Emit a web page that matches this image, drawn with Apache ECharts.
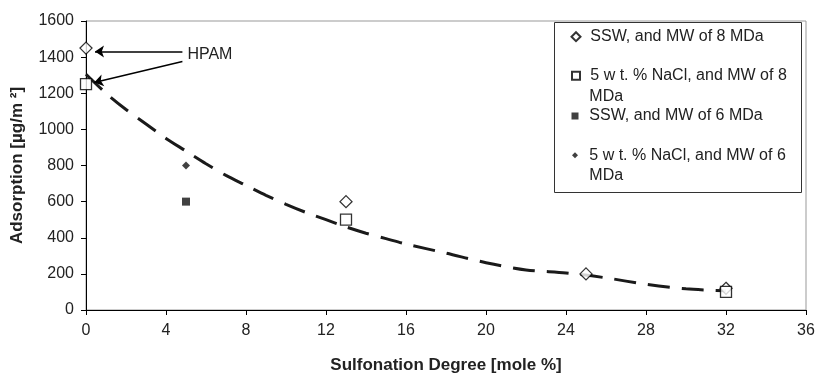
<!DOCTYPE html>
<html><head><meta charset="utf-8">
<script src="https://cdn.jsdelivr.net/npm/echarts@6/dist/echarts.min.js"></script>
<style>html,body{margin:0;padding:0;background:#fff}#c{width:816px;height:375px}</style>
</head><body><div id="c"></div>
<script>
// ---- data ----
const seriesNames = ['SSW, and MW of 8 MDa', '5 w t. % NaCl, and MW of 8 MDa', 'SSW, and MW of 6 MDa', '5 w t. % NaCl, and MW of 6 MDa'];
const legendFirstLines = ['SSW, and MW of 8 MDa', '5 w t. % NaCl, and MW of 8', 'SSW, and MW of 6 MDa', '5 w t. % NaCl, and MW of 6'];
const legendSecondLines = ['', 'MDa', '', 'MDa'];
const sswMW8 = [[0, 1450], [13, 600], [25, 200], [32, 120]];
const naclMW8 = [[0, 1250], [13, 500], [32, 100]];
const sswMW6 = [[5, 600]];
const naclMW6 = [[5, 800]];
const trendLine = [[0, 1305], [1, 1200], [2, 1110], [3, 1030], [4, 950], [5, 880], [6, 810], [7, 745], [8, 690], [9, 635], [10, 585], [11, 540], [12, 500], [13, 460], [14, 425], [15, 395], [16, 365], [18, 315], [20, 262], [22, 222], [24, 205], [26, 178], [28, 142], [30, 117], [32, 106]];
const xRange = [0, 36, 4];
const yRange = [0, 1600, 200];
const xTitle = 'Sulfonation Degree [mole %]';
const yTitle = 'Adsorption [µg/m ²]';
const annotationText = 'HPAM';
const hpamArrows = [[[4.82, 1431], [0.45, 1431]], [[4.82, 1376], [0.41, 1260]]];

// ---- chart ----
const FONT = '"Liberation Sans", Arial, sans-serif';
const chart = echarts.init(document.getElementById('c'), null, {renderer: 'canvas'});

const legendCenters = [36.7, 75.7, 116, 155.3];
const legendSymSize = [9, 8, 7, 6];
const legendSymbolX = 575;
const legendTextX = 589.3;

const legends = seriesNames.map((n, i) => {
  const s = legendSymSize[i];
  return {
    data: [n], orient: 'vertical', padding: 0,
    left: legendSymbolX - s / 2, top: legendCenters[i] - 8.5,
    itemWidth: s, itemHeight: s, symbolKeepAspect: true,
    selectedMode: false,
    formatter: () => legendFirstLines[i],
    textStyle: {fontSize: 16, color: '#222', fontFamily: FONT, lineHeight: 17,
      padding: [0, 0, 0, legendTextX - legendSymbolX - s / 2 - 5]}
  };
});

const graphics = [{
  type: 'rect', z: 3,
  shape: {x: 554.5, y: 22.5, width: 247, height: 170},
  style: {fill: '#fff', stroke: '#333', lineWidth: 1}
}];
legendSecondLines.forEach((t, i) => {
  if (!t) return;
  graphics.push({
    type: 'text', z: 5, x: legendTextX, y: legendCenters[i] + 20.5,
    style: {text: t, fontSize: 16, fill: '#222', fontFamily: FONT, verticalAlign: 'middle', align: 'left'}
  });
});

const axisCommon = {
  type: 'value', nameLocation: 'middle', nameMoveOverlap: false,
  axisLine: {show: true, onZero: false, lineStyle: {color: '#000', width: 1}},
  axisTick: {show: true, length: 5, lineStyle: {color: '#000', width: 1}},
  splitLine: {show: false},
  nameTextStyle: {fontSize: 17, fontWeight: 'bold', color: '#222', fontFamily: FONT}
};

const scatterBase = {type: 'scatter', z: 3};

chart.setOption({
  animation: false,
  backgroundColor: '#fff',
  grid: {left: 86, right: 10, top: 21, bottom: 65, show: true, borderColor: '#999', borderWidth: 1, backgroundColor: 'transparent', outerBoundsMode: 'none', containLabel: false},
  xAxis: Object.assign({}, axisCommon, {
    min: xRange[0], max: xRange[1], interval: xRange[2],
    name: xTitle, nameGap: 47,
    axisLabel: {margin: 13, fontSize: 16, color: '#222', fontFamily: FONT, formatter: v => String(v)}
  }),
  yAxis: Object.assign({}, axisCommon, {
    min: yRange[0], max: yRange[1], interval: yRange[2],
    name: yTitle, nameGap: 60,
    axisLabel: {margin: 12, fontSize: 16, color: '#222', fontFamily: FONT, formatter: v => String(v)}
  }),
  legend: legends,
  graphic: graphics,
  series: [
    {
      name: 'trend', type: 'line', data: trendLine, smooth: 0.3, showSymbol: false, symbol: 'none', z: 2,
      lineStyle: {color: '#1a1a1a', width: 3, type: [22, 12]}
    },
    Object.assign({}, scatterBase, {
      name: seriesNames[0], data: sswMW8, symbol: 'diamond', symbolSize: 12,
      itemStyle: {color: '#fff', borderColor: '#000', borderWidth: 1.3},
      markLine: {
        silent: true, symbol: ['none', 'arrow'], symbolSize: 9,
        lineStyle: {color: '#000', width: 1.5, type: 'solid'},
        label: {show: false},
        data: hpamArrows.map((a, k) => [
          {coord: a[0], label: {show: k === 0, position: 'start', formatter: annotationText, fontSize: 16, color: '#222', fontFamily: FONT, distance: 5, offset: [0, 3]}},
          {coord: a[1]}
        ])
      }
    }),
    Object.assign({}, scatterBase, {
      name: seriesNames[1], data: naclMW8, symbol: 'rect', symbolSize: 11,
      itemStyle: {color: '#fff', borderColor: '#000', borderWidth: 1.3}
    }),
    Object.assign({}, scatterBase, {
      name: seriesNames[2], data: sswMW6, symbol: 'rect', symbolSize: 8,
      itemStyle: {color: '#111', borderColor: '#111', borderWidth: 0}
    }),
    Object.assign({}, scatterBase, {
      name: seriesNames[3], data: naclMW6, symbol: 'diamond', symbolSize: 8,
      itemStyle: {color: '#111', borderColor: '#111', borderWidth: 0}
    })
  ]
});
</script>
</body></html>
